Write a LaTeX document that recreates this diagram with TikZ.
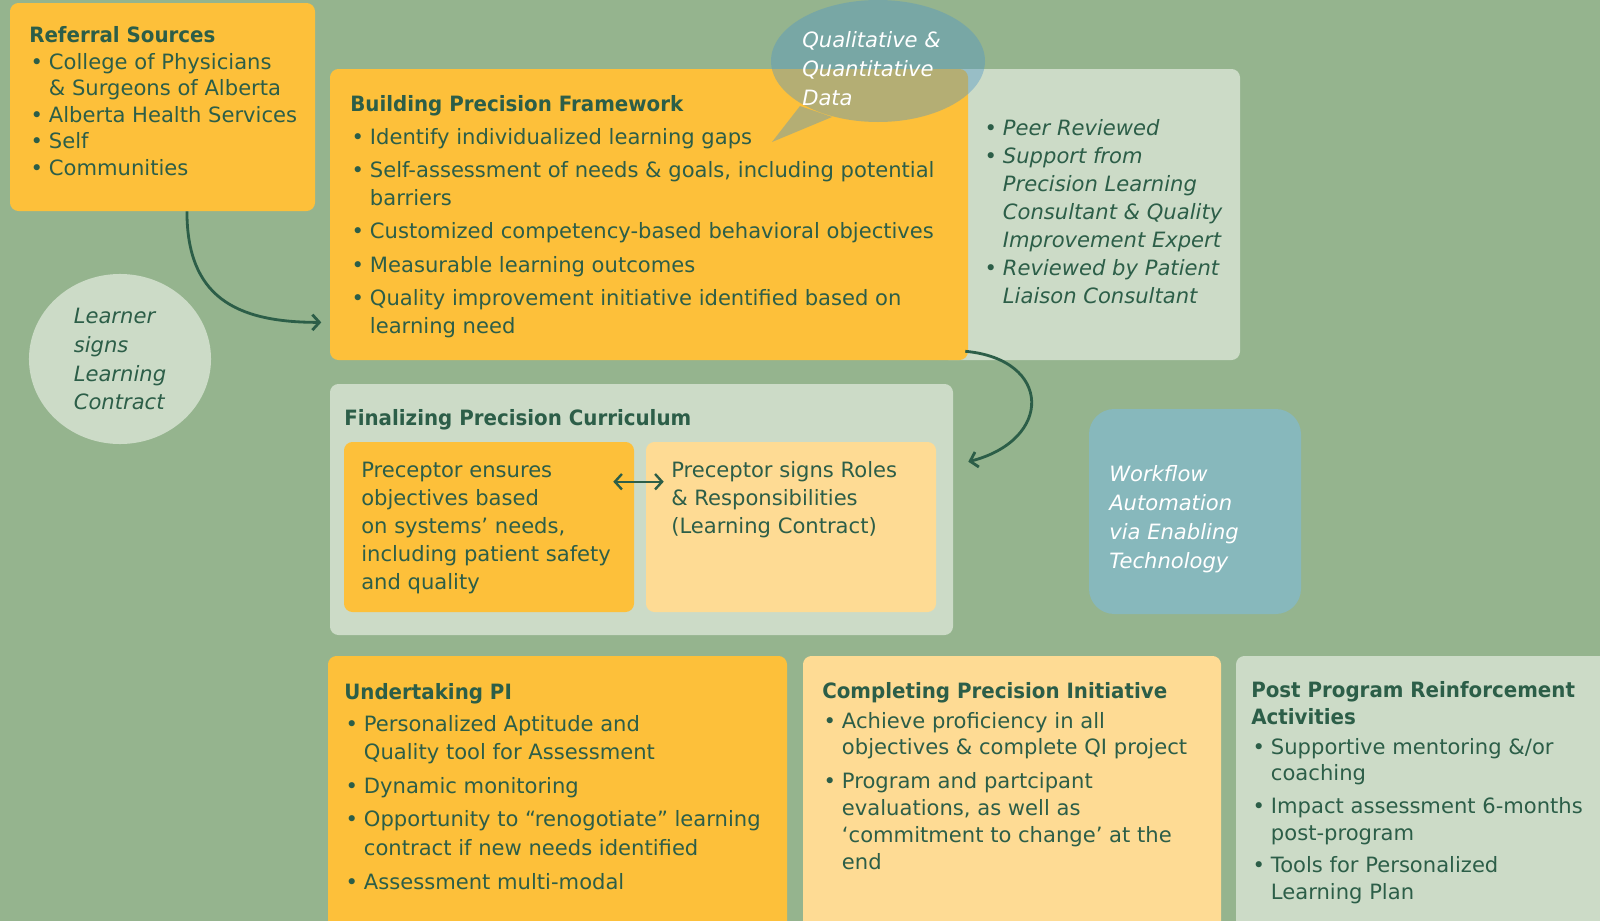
\documentclass[tikz,border=0pt]{standalone}
\usepackage{fontspec}
\setmainfont{DejaVu Sans}[BoldFeatures={FakeStretch=0.94}]
\usetikzlibrary{fit}
\usetikzlibrary{calc}
\usetikzlibrary{arrows.meta}
\usetikzlibrary{shapes.geometric}

\definecolor{bggreen}{RGB}{149,180,142}
\definecolor{gold}{RGB}{253,192,58}
\definecolor{cream}{RGB}{254,219,148}
\definecolor{sage}{RGB}{204,219,199}
\definecolor{pine}{RGB}{44,94,72}
\definecolor{wfteal}{RGB}{135,184,188}
\definecolor{bubblue}{RGB}{81,151,197}

\newcommand{\bul}{\makebox[14pt][l]{\hspace{1pt}\textbullet}}
\newcommand{\igap}{3.6pt}

\tikzset{
	box/.style={inner sep=0pt, rounded corners=6pt},
	txt/.style={inner sep=0pt, anchor=north west, text=pine, font=\fontsize{15}{19.9}\selectfont},
	note/.style={inner sep=0pt, anchor=north west, text=white, font=\fontsize{15}{20.6}\selectfont\itshape},
	link/.style={draw=pine, line width=2pt},
}

\begin{document}
\begin{tikzpicture}[x=0.025cm, y=-0.025cm, >={Straight Barb[length=5pt,width=11pt]}]
	% Canvas %
	\useasboundingbox (0,0) rectangle (1600,921);
	\clip (0,0) rectangle (1600,921);
	\fill [bggreen] (0,0) rectangle (1600,921);
	% Boxes %
	\node [box, fill=gold, fit={(10,3) (315,211)}] (refer) {};
	\node [box, fill=sage, fit={(940,69) (1240,360)}] (review) {};
	\node [box, fill=gold, fit={(330,69) (968,360)}] (build) {};
	\node [box, fill=sage, fit={(330,384) (953,635)}] (final) {};
	\node [box, fill=gold, fit={(344,442) (634,612)}] (ensure) {};
	\node [box, fill=cream, fit={(646,442) (936,612)}] (signs) {};
	\node [box, fill=wfteal, rounded corners=18pt, fit={(1089,409) (1301,614)}] (workflow) {};
	\node [box, fill=gold, fit={(328,656) (787,935)}] (under) {};
	\node [box, fill=cream, fit={(803,656) (1221,935)}] (complete) {};
	\node [box, fill=sage, fit={(1236,656) (1615,935)}] (post) {};
	% Learner %
	\node [ellipse, fill=sage, minimum width=4.55cm, minimum height=4.25cm, inner sep=0pt, align=left, text=pine, font=\fontsize{15}{20.6}\selectfont\itshape] (learner) at (120,359) {Learner\\signs\\Learning\\Contract};
	% Data Bubble %
	\fill [bubblue, opacity=0.42] (878,61) ellipse (107 and 61) (832,117) -- (772,142) -- (800,106) -- cycle;
	\node [note] (data) at (802,27) {\begin{tabular}{@{}l@{}}Qualitative \&\\Quantitative\\Data\end{tabular}};
	% Texts %
	\node [txt, font=\fontsize{15}{18.85}\selectfont] (refertxt) at (29,24) {\begin{tabular}{@{}l@{}l@{}}
		\multicolumn{2}{@{}l@{}}{\bfseries Referral Sources}\\
		\bul & College of Physicians\\
		& \& Surgeons of Alberta\\
		\bul & Alberta Health Services\\
		\bul & Self\\
		\bul & Communities
	\end{tabular}};
	\node [txt] (buildtxt) at (350,92) {\begin{tabular}{@{}l@{}l@{}}
		\multicolumn{2}{@{}l@{}}{\bfseries Building Precision Framework}\\[\igap]
		\bul & Identify individualized learning gaps\\[\igap]
		\bul & Self-assessment of needs \& goals, including potential\\
		& barriers\\[\igap]
		\bul & Customized competency-based behavioral objectives\\[\igap]
		\bul & Measurable learning outcomes\\[\igap]
		\bul & Quality improvement initiative identified based on\\
		& learning need
	\end{tabular}};
	\node [txt, font=\fontsize{15}{19.9}\selectfont\itshape] (reviewtxt) at (983,116) {\begin{tabular}{@{}l@{}l@{}}
		\bul & Peer Reviewed\\
		\bul & Support from\\
		& Precision Learning\\
		& Consultant \& Quality\\
		& Improvement Expert\\
		\bul & Reviewed by Patient\\
		& Liaison Consultant
	\end{tabular}};
	\node [txt] (finaltxt) at (344,409) {\bfseries Finalizing Precision Curriculum};
	\node [txt] (ensuretxt) at (361,458) {\begin{tabular}{@{}l@{}}
		Preceptor ensures\\
		objectives based\\
		on systems’ needs,\\
		including patient safety\\
		and quality
	\end{tabular}};
	\node [txt] (signstxt) at (671,458) {\begin{tabular}{@{}l@{}}
		Preceptor signs Roles\\
		\& Responsibilities\\
		(Learning Contract)
	\end{tabular}};
	\node [note] (workflowtxt) at (1109,461) {\begin{tabular}{@{}l@{}}Workflow\\Automation\\via Enabling\\Technology\end{tabular}};
	\node [txt, font=\fontsize{15}{20.3}\selectfont] (undertxt) at (344,679) {\begin{tabular}{@{}l@{}l@{}}
		\multicolumn{2}{@{}l@{}}{\bfseries Undertaking PI}\\[2.4pt]
		\bul & Personalized Aptitude and\\
		& Quality tool for Assessment\\[\igap]
		\bul & Dynamic monitoring\\[\igap]
		\bul & Opportunity to “renogotiate” learning\\
		& contract if new needs identified\\[\igap]
		\bul & Assessment multi-modal
	\end{tabular}};
	\node [txt, font=\fontsize{15}{19.2}\selectfont] (completetxt) at (822,679) {\begin{tabular}{@{}l@{}l@{}}
		\multicolumn{2}{@{}l@{}}{\bfseries Completing Precision Initiative}\\[2pt]
		\bul & Achieve proficiency in all\\
		& objectives \& complete QI project\\[4.5pt]
		\bul & Program and partcipant\\
		& evaluations, as well as\\
		& ‘commitment to change’ at the\\
		& end
	\end{tabular}};
	\node [txt, font=\fontsize{15}{19}\selectfont] (posttxt) at (1251,679) {\begin{tabular}{@{}l@{}l@{}}
		\multicolumn{2}{@{}l@{}}{\bfseries Post Program Reinforcement}\\
		\multicolumn{2}{@{}l@{}}{\bfseries Activities}\\[2pt]
		\bul & Supportive mentoring \&/or\\
		& coaching\\[4pt]
		\bul & Impact assessment 6-months\\
		& post-program\\[4pt]
		\bul & Tools for Personalized\\
		& Learning Plan
	\end{tabular}};
	% Arrows %
	\draw [link, ->, shorten >=6pt] ($(refer.south west)!0.58!(refer.south east)$) .. controls +(0,85) and +(-95,0) .. ($(build.north west)!0.87!(build.south west)$);
	\draw [link, ->] ($(build.south east)+(-3,-9)$) .. controls +(87,8) and +(85,-22) .. ($(final.north east)+(15,78)$);
	\draw [link, <->, line width=1.7pt] ($(ensure.north east)+(-21,40)$) -- ($(signs.north west)+(18,40)$);
\end{tikzpicture}
\end{document}
